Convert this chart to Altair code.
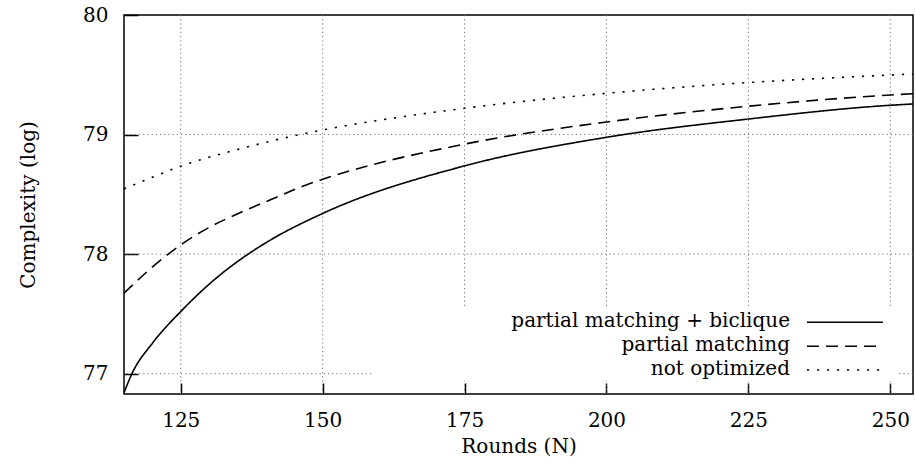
import altair as alt
import pandas as pd

# ---- data ----
series_names = ["partial matching + biclique", "partial matching", "not optimized"]

rounds_pmb = [115, 116.3, 120.1, 125, 131.9, 136.1, 140.7, 150, 175, 200, 225, 250, 254]
complexity_pmb = [76.84, 76.99, 77.26, 77.52, 77.825, 77.975, 78.115, 78.34, 78.738, 78.977, 79.13, 79.245, 79.256]

rounds_pm = [115, 120.1, 125, 128.9, 136.1, 141, 147.1, 150, 175, 200, 225, 250, 254]
complexity_pm = [77.673, 77.896, 78.077, 78.194, 78.36, 78.458, 78.579, 78.626, 78.92, 79.105, 79.237, 79.331, 79.342]

rounds_no = [115, 120.1, 125, 130.1, 133.5, 146, 150, 175, 200, 225, 250, 254]
complexity_no = [78.545, 78.645, 78.735, 78.812, 78.856, 79.0, 79.038, 79.22, 79.345, 79.435, 79.498, 79.507]

x_ticks = [125, 150, 175, 200, 225, 250]
y_ticks = [77, 78, 79, 80]
y_grid = [77, 78, 79]

rows = []
for name, xs, ys in [(series_names[0], rounds_pmb, complexity_pmb),
                     (series_names[1], rounds_pm, complexity_pm),
                     (series_names[2], rounds_no, complexity_no)]:
    for n, v in zip(xs, ys):
        rows.append({"series": name, "N": n, "value": v})
df = pd.DataFrame(rows)

FONT = "'DejaVu Serif', 'Liberation Serif', serif"
FS = 20

x_scale = alt.Scale(domain=[115, 254], nice=False, zero=False)
y_scale = alt.Scale(domain=[76.83, 80], nice=False, zero=False)
dash_scale = alt.Scale(domain=series_names, range=[[1, 0], [12, 7], [2.2, 7.8]])
width_scale = alt.Scale(domain=series_names, range=[1.6, 1.6, 2.2])

common_axis = dict(
    domain=False, grid=False, tickColor="black", tickWidth=1.5,
    labelColor="black", titleColor="black", titleFontWeight="normal",
    labelFont=FONT, titleFont=FONT, labelFontSize=FS, titleFontSize=FS,
    labelFlush=False,
)
x_axis = alt.Axis(values=x_ticks, title="Rounds (N)", offset=-11, tickSize=11,
                  labelPadding=16, titleY=53, **common_axis)
y_axis = alt.Axis(values=y_ticks, title="Complexity (log)", offset=-14, tickSize=14,
                  labelPadding=16, titleX=-100, **common_axis)

grid_style = dict(color="#707070", strokeWidth=1, strokeDash=[1.2, 3.0])

vgrid = alt.Chart(pd.DataFrame({"N": x_ticks})).mark_rule(**grid_style).encode(
    x=alt.X("N:Q", scale=x_scale, axis=x_axis))

hgrid = alt.Chart(pd.DataFrame({"value": y_grid})).mark_rule(**grid_style).encode(
    y=alt.Y("value:Q", scale=y_scale, axis=y_axis))

lines = alt.Chart(df).mark_line(
    color="black", interpolate="monotone", clip=True
).encode(
    x=alt.X("N:Q", scale=x_scale, axis=x_axis),
    y=alt.Y("value:Q", scale=y_scale, axis=y_axis),
    strokeDash=alt.StrokeDash("series:N", scale=dash_scale, legend=None),
    strokeWidth=alt.StrokeWidth("series:N", scale=width_scale, legend=None),
)

# ---- key (legend) box in the gnuplot style: labels on the left, samples on the right ----
key_bg = alt.Chart(pd.DataFrame({"k": [0]})).mark_rect(color="white").encode(
    x=alt.value(249), x2=alt.value(774), y=alt.value(292), y2=alt.value(366))

key_layers = [key_bg]
for i, name in enumerate(series_names):
    base_y = 312.3 + 23.85 * i
    row = pd.DataFrame({"series": [name]})
    key_layers.append(
        alt.Chart(row).mark_text(
            align="right", baseline="alphabetic", font=FONT, fontSize=FS, color="black"
        ).encode(x=alt.value(666), y=alt.value(base_y), text="series:N")
    )
    key_layers.append(
        alt.Chart(row).mark_rule(color="black", strokeWidth=1.5).encode(
            x=alt.value(683), x2=alt.value(759), y=alt.value(base_y - 5),
            strokeDash=alt.StrokeDash("series:N", scale=dash_scale, legend=None),
        )
    )

chart = alt.layer(vgrid, hgrid, *key_layers, lines).properties(
    width=789, height=379,
    padding={"left": 124, "top": 15, "right": 3, "bottom": 74},
    autosize=alt.AutoSizeParams(type="none"),
).configure(font=FONT).configure_view(
    stroke="black", strokeWidth=1.5
)

chart.save("out.html", embed_options={"renderer": "svg", "actions": False})
